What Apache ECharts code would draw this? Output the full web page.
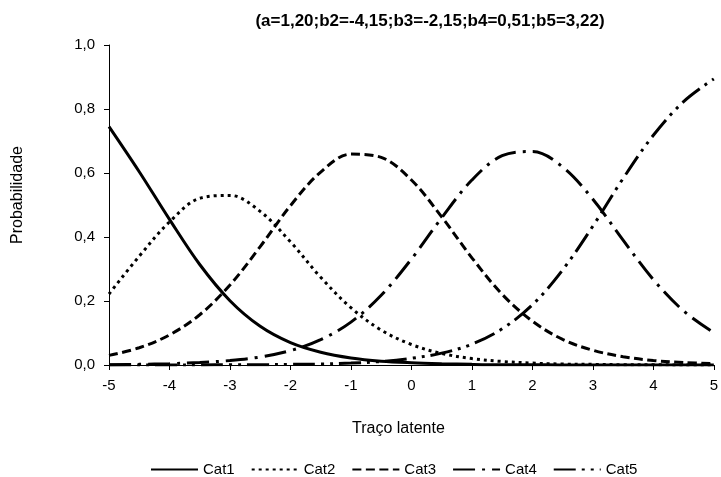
<!DOCTYPE html>
<html>
<head>
<meta charset="utf-8">
<script src="https://cdn.jsdelivr.net/npm/echarts@6/dist/echarts.min.js"></script>
<style>
  html, body { margin: 0; padding: 0; background: #fff; }
  #chart { width: 721px; height: 477px; }
</style>
</head>
<body>
<div id="chart"></div>
<script>
// traço latente (theta)
const theta = [-5, -4.5, -4, -3.5, -3, -2.5, -2, -1.5, -1, -0.5, 0, 0.5, 1, 1.5, 2, 2.5, 3, 3.5, 4, 4.5, 5];

// probabilidades
const cat1 = [0.745, 0.604, 0.455, 0.314, 0.201, 0.121, 0.070, 0.040, 0.022, 0.012, 0.007, 0.004, 0.002, 0.001, 0.001, 0, 0, 0, 0, 0, 0];
const cat2 = [0.222, 0.340, 0.447, 0.521, 0.530, 0.480, 0.385, 0.274, 0.179, 0.109, 0.064, 0.036, 0.020, 0.011, 0.006, 0.003, 0.002, 0.001, 0.001, 0, 0];
const cat3 = [0.030, 0.054, 0.094, 0.157, 0.250, 0.370, 0.498, 0.603, 0.659, 0.649, 0.578, 0.463, 0.335, 0.221, 0.137, 0.080, 0.046, 0.026, 0.014, 0.008, 0.004];
const cat4 = [0.001, 0.002, 0.004, 0.008, 0.014, 0.025, 0.045, 0.079, 0.134, 0.218, 0.331, 0.460, 0.578, 0.654, 0.667, 0.619, 0.518, 0.390, 0.267, 0.169, 0.101];
const cat5 = [0, 0, 0, 0, 0.001, 0.001, 0.002, 0.003, 0.006, 0.011, 0.021, 0.037, 0.065, 0.113, 0.188, 0.297, 0.434, 0.583, 0.718, 0.823, 0.894];

const yTicks = ['0,0', '0,2', '0,4', '0,6', '0,8', '1,0'];

const names = ['Cat1', 'Cat2', 'Cat3', 'Cat4', 'Cat5'];
const values = [cat1, cat2, cat3, cat4, cat5];
// estilos de linha (traço, ponto, etc.)
const dashes = [
    'solid',
    [3, 4],
    [9, 4.5],
    [22, 7, 3, 7],
    [22, 6, 3, 6, 3, 6]
];

const chart = echarts.init(document.getElementById('chart'), null, { renderer: 'canvas' });

function pairs(arr) {
    return theta.map((t, i) => [t, arr[i]]);
}

const series = names.map((n, i) => ({
    name: n,
    type: 'line',
    data: pairs(values[i]),
    smooth: 0.35,
    symbol: 'none',
    clip: true,
    lineStyle: {
        color: '#000',
        width: 3,
        type: dashes[i],
        cap: 'butt'
    },
    itemStyle: { color: '#000' }
}));

const font = 'Liberation Sans, Arial, sans-serif';

const option = {
    animation: false,
    backgroundColor: '#fff',
    textStyle: { fontFamily: font, color: '#000' },
    title: {
        text: '(a=1,20;b2=-4,15;b3=-2,15;b4=0,51;b5=3,22)',
        left: 425,
        textAlign: 'center',
        top: 8,
        textStyle: { fontSize: 17, fontWeight: 'bold', color: '#000', fontFamily: font }
    },
    legend: {
        data: names,
        top: 457,
        left: 145,
        itemWidth: 47,
        itemHeight: 12,
        itemGap: 16,
        itemStyle: { opacity: 0 },
        textStyle: { fontSize: 15, color: '#000', fontFamily: font }
    },
    grid: { left: 109, right: 4, top: 45, bottom: 112, containLabel: false },
    xAxis: {
        type: 'value',
        min: -5,
        max: 5,
        interval: 1,
        name: 'Traço latente',
        nameLocation: 'middle',
        nameGap: 56,
        nameTextStyle: { fontSize: 16, color: '#000', padding: [0, 26, 0, 0] },
        axisLine: { onZero: false, lineStyle: { color: '#000', width: 1 } },
        axisTick: { show: true, inside: false, length: 5, lineStyle: { color: '#000' } },
        axisLabel: { fontSize: 15, color: '#000', margin: 13 },
        splitLine: { show: false }
    },
    yAxis: {
        type: 'value',
        min: 0,
        max: 1,
        interval: 0.2,
        name: 'Probabilidade',
        nameLocation: 'middle',
        nameRotate: 90,
        nameGap: 83,
        nameTextStyle: { fontSize: 16, color: '#000', padding: [0, 0, 0, 20] },
        axisLine: { show: true, onZero: false, lineStyle: { color: '#000', width: 1 } },
        axisTick: { show: true, inside: false, length: 5, lineStyle: { color: '#000' } },
        axisLabel: {
            fontSize: 15,
            color: '#000',
            margin: 14,
            formatter: v => yTicks[Math.round(v / 0.2)]
        },
        splitLine: { show: false }
    },
    series: series
};

chart.setOption(option);
</script>
</body>
</html>
